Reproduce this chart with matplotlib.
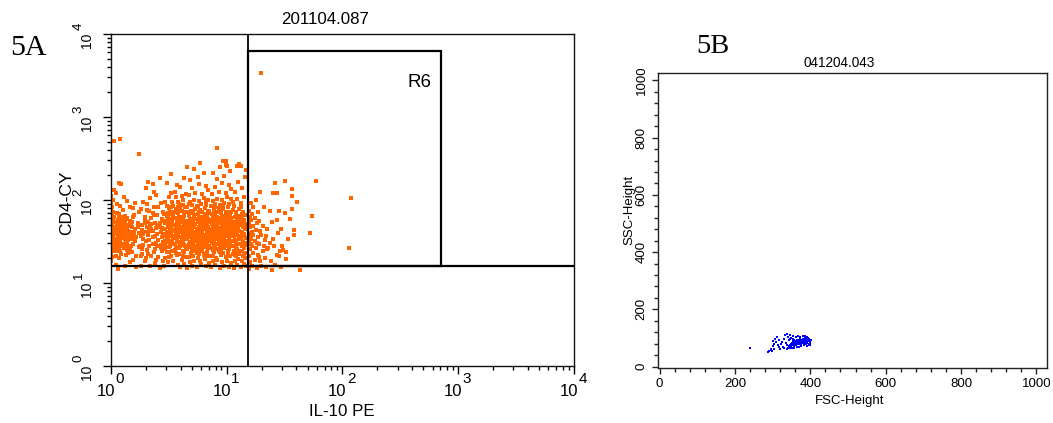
import numpy as np
import matplotlib
matplotlib.use("Agg")
import matplotlib.pyplot as plt
from matplotlib.patches import Rectangle
from matplotlib.ticker import FixedLocator, NullFormatter, MultipleLocator

SANS = ["Liberation Sans", "DejaVu Sans"]
NARROW = ["Liberation Sans Narrow", "DejaVu Sans Condensed", "Liberation Sans", "DejaVu Sans"]
SERIF = ["Liberation Serif", "DejaVu Serif"]

ORANGE = "#ff6600"
BLUE = "#0000ff"

# ---------------- Panel 5A: CD4-CY vs IL-10 PE (log10 decades) ----------------
title_a = "201104.087"
xlabel_a = "IL-10 PE"
ylabel_a = "CD4-CY"
decades = [0, 1, 2, 3, 4]

# quadrant gate and region R6 (linear units)
quad_x = 15.2
quad_y = 15.8
r6_right = 710.0
r6_top = 6300.0

# events as (log10 IL-10 PE, log10 CD4-CY)
events_a = [
    # pile-up on the IL-10 axis
    (0.00, 1.27), (0.01, 1.31), (0.00, 1.36), (0.02, 1.40), (0.00, 1.43), (0.01, 1.47),
    (0.00, 1.50), (0.00, 1.53), (0.01, 1.55), (0.00, 1.58), (0.02, 1.60), (0.00, 1.62),
    (0.01, 1.65), (0.00, 1.67), (0.00, 1.70), (0.01, 1.72), (0.00, 1.75), (0.02, 1.77),
    (0.00, 1.80), (0.01, 1.83), (0.00, 1.86), (0.00, 1.89), (0.01, 1.92), (0.00, 1.96),
    (0.02, 2.00), (0.00, 1.45), (0.01, 1.58), (0.00, 1.68), (0.02, 1.52), (0.00, 2.05),
    (0.01, 1.50), (0.01, 1.62), (0.00, 1.73), (0.01, 1.40), (0.02, 1.85),
    # low IL-10
    (0.04, 1.22), (0.07, 1.30), (0.05, 1.38), (0.09, 1.44), (0.03, 1.49), (0.06, 1.55),
    (0.11, 1.58), (0.04, 1.62), (0.08, 1.66), (0.05, 1.71), (0.12, 1.74), (0.03, 1.79),
    (0.07, 1.83), (0.10, 1.88), (0.05, 1.95), (0.14, 1.99), (0.04, 2.08), (0.09, 2.19),
    (0.13, 1.34), (0.16, 1.41), (0.19, 1.47), (0.15, 1.52), (0.18, 1.61), (0.21, 1.65),
    (0.17, 1.69), (0.23, 1.72), (0.14, 1.78), (0.20, 1.82), (0.16, 1.91), (0.22, 1.55),
    (0.24, 1.43), (0.19, 1.28), (0.12, 1.21), (0.08, 1.50), (0.10, 1.65), (0.13, 1.69),
    (0.06, 1.76), (0.15, 1.63), (0.09, 1.58), (0.11, 1.47), (0.07, 1.41), (0.18, 1.37),
    (0.22, 1.33), (0.24, 1.60), (0.20, 1.57), (0.17, 1.53), (0.14, 1.49), (0.03, 1.68),
    (0.05, 1.84), (0.08, 1.93), (0.11, 2.04), (0.21, 1.96), (0.24, 1.86), (0.18, 1.74),
    (0.13, 1.56), (0.09, 1.35), (0.16, 1.25), (0.22, 1.19), (0.06, 1.17), (0.03, 2.12),
    (0.07, 2.21), (0.12, 1.81), (0.23, 1.68), (0.19, 1.90), (0.10, 1.72), (0.04, 1.33),
    (0.15, 1.44), (0.21, 1.50), (0.17, 1.62), (0.12, 1.63),
    (0.03, 1.39), (0.05, 1.43), (0.08, 1.38), (0.11, 1.42), (0.14, 1.40), (0.17, 1.45),
    (0.04, 1.47), (0.07, 1.52), (0.10, 1.54), (0.13, 1.51), (0.16, 1.56), (0.19, 1.60),
    (0.02, 1.56), (0.05, 1.60), (0.08, 1.62), (0.11, 1.61), (0.14, 1.66), (0.17, 1.58),
    (0.03, 1.64), (0.06, 1.67), (0.09, 1.71), (0.12, 1.73), (0.15, 1.70), (0.18, 1.67),
    (0.04, 1.73), (0.07, 1.78), (0.10, 1.80), (0.13, 1.77), (0.16, 1.75), (0.19, 1.79),
    (0.06, 1.48), (0.09, 1.64), (0.12, 1.46), (0.15, 1.36), (0.18, 1.53),
    (0.05, 1.53), (0.08, 1.57), (0.03, 1.59), (0.06, 1.64), (0.09, 1.47), (0.12, 1.53),
    (0.05, 1.69), (0.10, 1.76), (0.14, 1.60), (0.07, 1.46), (0.03, 1.43), (0.11, 1.67),
    (0.16, 1.71), (0.20, 1.62), (0.08, 1.74),
    # 0.25 - 0.45
    (0.26, 1.21), (0.29, 1.27), (0.27, 1.35), (0.31, 1.40), (0.28, 1.46), (0.33, 1.52),
    (0.26, 1.57), (0.30, 1.61), (0.35, 1.65), (0.27, 1.70), (0.32, 1.74), (0.29, 1.80),
    (0.36, 1.84), (0.26, 1.89), (0.31, 1.95), (0.34, 2.02), (0.30, 2.14), (0.32, 2.22),
    (0.38, 1.24), (0.41, 1.31), (0.37, 1.37), (0.43, 1.42), (0.39, 1.48), (0.44, 1.55),
    (0.40, 1.59), (0.36, 1.63), (0.42, 1.67), (0.38, 1.72), (0.44, 1.77), (0.40, 1.82),
    (0.37, 1.91), (0.43, 1.96), (0.39, 2.06), (0.36, 2.19), (0.42, 2.27), (0.28, 1.59),
    (0.33, 1.44), (0.35, 1.33), (0.30, 1.50), (0.27, 1.64), (0.34, 1.69), (0.29, 1.76),
    (0.41, 1.52), (0.38, 1.56), (0.43, 1.62), (0.45, 1.49), (0.44, 1.38), (0.40, 1.45),
    (0.36, 1.47), (0.32, 1.58), (0.28, 1.53), (0.25, 1.45), (0.31, 1.67), (0.35, 1.78),
    (0.39, 1.66), (0.42, 1.72), (0.45, 1.85), (0.41, 1.91), (0.33, 1.87), (0.28, 1.98),
    (0.37, 2.10), (0.26, 1.33), (0.30, 1.30), (0.34, 1.20), (0.42, 1.18), (0.39, 1.28),
    (0.45, 1.26), (0.36, 1.55), (0.33, 1.63), (0.29, 1.72), (0.44, 1.66), (0.40, 1.70),
    (0.37, 1.82), (0.31, 1.88), (0.27, 1.41), (0.43, 1.46), (0.38, 1.41), (0.35, 1.71),
    (0.32, 1.35), (0.45, 1.59),
    # 0.45 - 0.65
    (0.46, 1.20), (0.49, 1.25), (0.47, 1.30), (0.52, 1.33), (0.48, 1.37), (0.55, 1.40),
    (0.50, 1.43), (0.46, 1.46), (0.53, 1.48), (0.57, 1.50), (0.49, 1.52), (0.54, 1.54),
    (0.47, 1.56), (0.51, 1.58), (0.56, 1.60), (0.48, 1.62), (0.53, 1.64), (0.58, 1.66),
    (0.50, 1.68), (0.55, 1.70), (0.47, 1.72), (0.52, 1.74), (0.57, 1.76), (0.49, 1.78),
    (0.54, 1.80), (0.46, 1.83), (0.51, 1.86), (0.56, 1.89), (0.48, 1.93), (0.53, 1.97),
    (0.50, 2.03), (0.55, 2.10), (0.48, 2.21), (0.52, 2.31),
    (0.60, 1.19), (0.63, 1.23), (0.61, 1.28), (0.64, 1.31), (0.59, 1.35), (0.62, 1.38),
    (0.65, 1.41), (0.60, 1.44), (0.63, 1.46), (0.58, 1.49), (0.61, 1.51), (0.64, 1.53),
    (0.59, 1.55), (0.62, 1.57), (0.65, 1.59), (0.60, 1.61), (0.63, 1.63), (0.58, 1.65),
    (0.61, 1.67), (0.64, 1.69), (0.59, 1.71), (0.62, 1.73), (0.65, 1.75), (0.60, 1.78),
    (0.63, 1.81), (0.58, 1.84), (0.61, 1.87), (0.64, 1.91), (0.59, 1.95), (0.62, 2.00),
    (0.65, 2.07), (0.60, 2.16), (0.63, 2.26),
    (0.47, 1.41), (0.51, 1.45), (0.55, 1.47), (0.49, 1.49), (0.53, 1.51), (0.57, 1.53),
    (0.46, 1.59), (0.50, 1.60), (0.54, 1.63), (0.58, 1.58), (0.52, 1.66), (0.56, 1.67),
    (0.49, 1.69), (0.53, 1.71), (0.57, 1.73), (0.46, 1.75), (0.51, 1.77), (0.55, 1.78),
    (0.59, 1.80), (0.48, 1.81), (0.52, 1.83), (0.57, 1.85), (0.50, 1.90), (0.54, 1.93),
    (0.58, 1.97), (0.47, 1.98), (0.56, 2.03), (0.61, 2.05), (0.52, 2.08), (0.57, 2.18),
    (0.62, 1.48), (0.64, 1.62), (0.60, 1.66), (0.62, 1.80), (0.56, 1.36), (0.50, 1.31),
    (0.54, 1.26), (0.58, 1.22), (0.62, 1.33), (0.47, 1.50), (0.53, 1.39), (0.59, 1.42),
    (0.64, 1.45), (0.61, 1.54), (0.57, 1.62), (0.55, 1.56), (0.51, 1.64), (0.49, 1.57),
    (0.63, 1.70), (0.60, 1.74), (0.54, 1.86), (0.58, 1.91), (0.64, 1.85), (0.62, 1.94),
    # 0.65 - 0.85
    (0.66, 1.18), (0.70, 1.21), (0.74, 1.19), (0.78, 1.23), (0.82, 1.20), (0.68, 1.25),
    (0.72, 1.27), (0.77, 1.26), (0.81, 1.29), (0.85, 1.24), (0.67, 1.31), (0.71, 1.33),
    (0.75, 1.30), (0.80, 1.34), (0.84, 1.32), (0.69, 1.36), (0.73, 1.38), (0.76, 1.35),
    (0.79, 1.39), (0.83, 1.37),
    (0.66, 1.41), (0.68, 1.43), (0.70, 1.40), (0.72, 1.44), (0.74, 1.42), (0.76, 1.45),
    (0.78, 1.41), (0.80, 1.43), (0.82, 1.46), (0.84, 1.42), (0.67, 1.47), (0.69, 1.49),
    (0.71, 1.46), (0.73, 1.50), (0.75, 1.48), (0.77, 1.51), (0.79, 1.47), (0.81, 1.50),
    (0.83, 1.48), (0.85, 1.51), (0.66, 1.53), (0.68, 1.55), (0.70, 1.52), (0.72, 1.56),
    (0.74, 1.54), (0.76, 1.57), (0.78, 1.53), (0.80, 1.56), (0.82, 1.54), (0.84, 1.57),
    (0.67, 1.59), (0.69, 1.61), (0.71, 1.58), (0.73, 1.60), (0.75, 1.62), (0.77, 1.59),
    (0.79, 1.61), (0.81, 1.58), (0.83, 1.60), (0.85, 1.62),
    (0.66, 1.64), (0.68, 1.66), (0.70, 1.63), (0.72, 1.67), (0.74, 1.65), (0.76, 1.68),
    (0.78, 1.64), (0.80, 1.67), (0.82, 1.65), (0.84, 1.68), (0.67, 1.70), (0.69, 1.72),
    (0.71, 1.69), (0.73, 1.71), (0.75, 1.73), (0.77, 1.70), (0.79, 1.72), (0.81, 1.74),
    (0.83, 1.71), (0.85, 1.73), (0.66, 1.75), (0.68, 1.77), (0.70, 1.76), (0.72, 1.79),
    (0.74, 1.77), (0.76, 1.80), (0.78, 1.76), (0.80, 1.78), (0.82, 1.80), (0.84, 1.77),
    (0.67, 1.82), (0.71, 1.84), (0.75, 1.83), (0.79, 1.85), (0.83, 1.82), (0.69, 1.87),
    (0.73, 1.89), (0.77, 1.88), (0.81, 1.90), (0.85, 1.87), (0.66, 1.92), (0.70, 1.94),
    (0.74, 1.93), (0.78, 1.95), (0.82, 1.94), (0.68, 1.98), (0.72, 2.00), (0.76, 1.99),
    (0.80, 2.02), (0.84, 2.00),
    (0.67, 2.06), (0.73, 2.09), (0.79, 2.07), (0.84, 2.12), (0.70, 2.15), (0.76, 2.19),
    (0.82, 2.17), (0.68, 2.24), (0.75, 2.28), (0.80, 2.33), (0.77, 2.44), (0.72, 2.37),
    (0.67, 1.56), (0.73, 1.53), (0.79, 1.44), (0.83, 1.66), (0.71, 1.74), (0.77, 1.62),
    (0.69, 1.69), (0.75, 1.58), (0.81, 1.46), (0.85, 1.55), (0.68, 1.48), (0.74, 1.36),
    (0.80, 1.71), (0.72, 1.61), (0.78, 1.79), (0.84, 1.85),
    # 0.85 - 1.05
    (0.86, 1.19), (0.90, 1.22), (0.94, 1.18), (0.98, 1.21), (1.02, 1.19), (0.88, 1.26),
    (0.92, 1.28), (0.96, 1.25), (1.00, 1.27), (1.04, 1.24), (0.87, 1.32), (0.91, 1.30),
    (0.95, 1.34), (0.99, 1.31), (1.03, 1.33), (0.89, 1.37), (0.93, 1.39), (0.97, 1.36),
    (1.01, 1.38), (1.05, 1.35),
    (0.86, 1.42), (0.88, 1.40), (0.90, 1.44), (0.92, 1.41), (0.94, 1.43), (0.96, 1.46),
    (0.98, 1.42), (1.00, 1.45), (1.02, 1.41), (1.04, 1.44), (0.87, 1.48), (0.89, 1.50),
    (0.91, 1.47), (0.93, 1.51), (0.95, 1.49), (0.97, 1.52), (0.99, 1.48), (1.01, 1.50),
    (1.03, 1.47), (1.05, 1.51), (0.86, 1.54), (0.88, 1.56), (0.90, 1.53), (0.92, 1.57),
    (0.94, 1.55), (0.96, 1.58), (0.98, 1.54), (1.00, 1.57), (1.02, 1.55), (1.04, 1.58),
    (0.87, 1.60), (0.89, 1.62), (0.91, 1.59), (0.93, 1.61), (0.95, 1.63), (0.97, 1.60),
    (0.99, 1.62), (1.01, 1.59), (1.03, 1.61), (1.05, 1.63),
    (0.86, 1.65), (0.88, 1.67), (0.90, 1.64), (0.92, 1.68), (0.94, 1.66), (0.96, 1.69),
    (0.98, 1.65), (1.00, 1.68), (1.02, 1.66), (1.04, 1.69), (0.87, 1.71), (0.89, 1.73),
    (0.91, 1.70), (0.93, 1.72), (0.95, 1.74), (0.97, 1.71), (0.99, 1.73), (1.01, 1.75),
    (1.03, 1.72), (1.05, 1.74), (0.86, 1.76), (0.88, 1.78), (0.90, 1.77), (0.92, 1.80),
    (0.94, 1.78), (0.96, 1.81), (0.98, 1.77), (1.00, 1.79), (1.02, 1.81), (1.04, 1.78),
    (0.87, 1.83), (0.91, 1.85), (0.95, 1.84), (0.99, 1.86), (1.03, 1.83), (0.89, 1.88),
    (0.93, 1.90), (0.97, 1.89), (1.01, 1.91), (1.05, 1.88), (0.86, 1.93), (0.90, 1.95),
    (0.94, 1.94), (0.98, 1.96), (1.02, 1.95), (0.88, 1.99), (0.92, 2.01), (0.96, 2.00),
    (1.00, 2.03), (1.04, 2.01),
    (0.87, 2.07), (0.93, 2.10), (0.99, 2.08), (1.04, 2.13), (0.90, 2.16), (0.96, 2.20),
    (1.02, 2.18), (0.92, 2.25), (0.98, 2.29), (1.03, 2.35), (0.94, 2.40), (0.97, 2.47),
    (0.88, 2.33), (1.00, 2.41),
    (0.87, 1.57), (0.93, 1.54), (0.99, 1.45), (1.03, 1.67), (0.91, 1.75), (0.97, 1.63),
    (0.89, 1.70), (0.95, 1.59), (1.01, 1.47), (1.05, 1.56), (0.88, 1.49), (0.94, 1.37),
    (1.00, 1.72), (0.92, 1.62), (0.98, 1.80), (1.04, 1.86),
    # additional core events
    (0.47, 1.44), (0.52, 1.47), (0.56, 1.43), (0.61, 1.46), (0.66, 1.44), (0.71, 1.42),
    (0.75, 1.45), (0.80, 1.48), (0.85, 1.45), (0.89, 1.43), (0.94, 1.46), (0.98, 1.49),
    (1.03, 1.45), (1.08, 1.43), (1.12, 1.47),
    (0.48, 1.55), (0.53, 1.57), (0.57, 1.55), (0.62, 1.52), (0.66, 1.57), (0.70, 1.55),
    (0.75, 1.51), (0.79, 1.55), (0.84, 1.53), (0.88, 1.58), (0.93, 1.56), (0.97, 1.55),
    (1.02, 1.52), (1.06, 1.59), (1.11, 1.56),
    (0.47, 1.65), (0.52, 1.62), (0.56, 1.65), (0.61, 1.62), (0.65, 1.66), (0.70, 1.67),
    (0.74, 1.62), (0.79, 1.66), (0.83, 1.63), (0.88, 1.64), (0.92, 1.66), (0.97, 1.67),
    (1.01, 1.63), (1.06, 1.66), (1.10, 1.68),
    (0.48, 1.73), (0.53, 1.76), (0.57, 1.71), (0.62, 1.77), (0.66, 1.73), (0.71, 1.77),
    (0.75, 1.75), (0.80, 1.73), (0.84, 1.75), (0.89, 1.76), (0.93, 1.77), (0.98, 1.75),
    (1.02, 1.74), (1.07, 1.71), (1.11, 1.76),
    (0.49, 1.84), (0.54, 1.82), (0.58, 1.86), (0.63, 1.84), (0.67, 1.86), (0.72, 1.82),
    (0.76, 1.86), (0.81, 1.83), (0.85, 1.84), (0.90, 1.81), (0.94, 1.86), (0.99, 1.83),
    (1.03, 1.86), (1.08, 1.82), (1.13, 1.83),
    (0.50, 1.37), (0.57, 1.34), (0.63, 1.37), (0.69, 1.34), (0.76, 1.38), (0.82, 1.35),
    (0.88, 1.33), (0.95, 1.38), (1.01, 1.35), (1.07, 1.34), (1.13, 1.39),
    (0.52, 1.92), (0.60, 1.90), (0.67, 1.95), (0.75, 1.91), (0.82, 1.97), (0.90, 1.91),
    (0.97, 1.93), (1.05, 1.97), (1.12, 1.92),
    # 1.05 - 1.18
    (1.06, 1.18), (1.09, 1.22), (1.12, 1.19), (1.15, 1.23), (1.17, 1.20), (1.07, 1.27),
    (1.10, 1.29), (1.13, 1.26), (1.16, 1.30), (1.08, 1.33), (1.11, 1.35), (1.14, 1.32),
    (1.17, 1.36), (1.06, 1.39), (1.09, 1.41), (1.12, 1.38), (1.15, 1.42), (1.07, 1.45),
    (1.10, 1.47), (1.13, 1.44), (1.16, 1.48), (1.08, 1.51), (1.11, 1.53), (1.14, 1.50),
    (1.17, 1.54), (1.06, 1.56), (1.09, 1.58), (1.12, 1.55), (1.15, 1.59), (1.07, 1.62),
    (1.10, 1.64), (1.13, 1.61), (1.16, 1.65), (1.08, 1.68), (1.11, 1.70), (1.14, 1.67),
    (1.17, 1.71), (1.06, 1.73), (1.09, 1.75), (1.12, 1.72), (1.15, 1.76), (1.07, 1.79),
    (1.10, 1.81), (1.13, 1.78), (1.16, 1.82), (1.08, 1.86), (1.11, 1.89), (1.14, 1.85),
    (1.06, 1.93), (1.12, 1.96), (1.09, 2.01), (1.15, 2.04), (1.07, 2.10), (1.13, 2.15),
    (1.10, 2.22), (1.16, 2.28), (1.12, 2.41), (1.17, 2.36), (1.08, 1.49), (1.14, 1.57),
    (1.11, 1.63), (1.17, 1.46), (1.16, 1.69), (1.07, 1.52), (1.13, 1.74), (1.10, 1.37),
    (1.15, 1.35),
    # 1.18 - 1.35
    (1.19, 1.17), (1.22, 1.20), (1.26, 1.18), (1.30, 1.21), (1.34, 1.19), (1.20, 1.25),
    (1.24, 1.28), (1.29, 1.26), (1.33, 1.30), (1.19, 1.33), (1.23, 1.36), (1.27, 1.34),
    (1.31, 1.38), (1.20, 1.41), (1.22, 1.44), (1.25, 1.42), (1.28, 1.47), (1.32, 1.45),
    (1.19, 1.50), (1.21, 1.53), (1.24, 1.51), (1.27, 1.55), (1.30, 1.58), (1.19, 1.60),
    (1.22, 1.62), (1.25, 1.64), (1.20, 1.67), (1.23, 1.69), (1.26, 1.72), (1.19, 1.74),
    (1.21, 1.76), (1.24, 1.78), (1.28, 1.75), (1.20, 1.80), (1.22, 1.83), (1.19, 1.87),
    (1.23, 1.91), (1.27, 1.85), (1.21, 1.96), (1.25, 2.00), (1.29, 1.63), (1.33, 1.52),
    (1.35, 1.41), (1.31, 1.69), (1.26, 1.48), (1.20, 1.56), (1.23, 1.58), (1.19, 1.70),
    (1.21, 1.47), (1.28, 1.31),
    # sparse high IL-10
    (1.42, 2.21), (1.50, 2.23), (1.77, 2.23), (1.29, 2.10), (1.40, 2.08), (1.43, 2.08),
    (1.56, 2.13), (1.56, 2.05), (1.61, 1.98), (1.32, 1.92), (1.56, 1.89), (1.45, 1.87),
    (1.37, 1.87), (1.50, 1.84), (1.74, 1.81), (1.55, 1.77), (1.43, 1.76), (1.39, 1.74),
    (1.72, 1.60), (1.58, 1.64), (1.58, 1.58), (1.53, 1.53), (1.48, 1.45), (1.49, 1.40),
    (1.51, 1.37), (1.46, 1.38), (1.43, 1.34), (1.51, 1.29), (1.35, 1.65), (1.34, 1.56),
    (1.40, 1.53), (1.37, 1.48), (1.41, 1.44), (1.36, 1.42), (1.45, 1.32), (1.38, 1.27),
    (1.42, 1.22), (1.47, 1.19), (1.39, 1.16), (1.63, 1.16), (1.44, 1.60), (1.47, 1.65),
    # isolated events
    (0.03, 2.71), (0.08, 2.74), (0.24, 2.55), (0.92, 2.63), (1.30, 3.53), (2.07, 2.02),
    (2.06, 1.42), (0.77, 2.44), (0.99, 2.47), (0.99, 2.42), (1.09, 2.41), (1.11, 2.43),
    (0.66, 2.40),
]

# ---------------- Panel 5B: SSC-Height vs FSC-Height ----------------
title_b = "041204.043"
xlabel_b = "FSC-Height"
ylabel_b = "SSC-Height"

# events as (FSC-Height, SSC-Height)
events_b = [
    (241, 65),
    (288, 50), (291, 53), (295, 57), (299, 55), (303, 60), (297, 62),
    (300, 72), (304, 80), (302, 90), (306, 96), (309, 85), (311, 104), (313, 75),
    (316, 68), (318, 92), (320, 62), (322, 78), (325, 86), (327, 70), (329, 98),
    (331, 64), (333, 110), (335, 82), (337, 115), (338, 74), (340, 104), (341, 66),
    (343, 92), (345, 112),
    (344, 72), (346, 76), (348, 70), (349, 80), (351, 74), (352, 84), (354, 78),
    (355, 88), (356, 72), (357, 82), (358, 92), (359, 76), (360, 86), (361, 80),
    (362, 90), (363, 74), (364, 84), (365, 94), (366, 78), (367, 88), (368, 82),
    (369, 92), (370, 86), (371, 80), (372, 96), (373, 84), (374, 90), (375, 78),
    (376, 88), (377, 94), (378, 84), (379, 90), (380, 98), (381, 86), (382, 80),
    (383, 92), (384, 88), (385, 100), (386, 84), (387, 94), (388, 78), (389, 90),
    (390, 96), (391, 86), (392, 82), (393, 100), (394, 92), (395, 88), (396, 80),
    (397, 96), (398, 74), (399, 90), (400, 84), (402, 94),
    (350, 100), (355, 106), (362, 102), (368, 106), (374, 104), (380, 108),
    (386, 106), (392, 104), (347, 96), (353, 96),
    (339, 62), (346, 64), (352, 66), (358, 64), (364, 68), (370, 70), (376, 72),
    (384, 74), (390, 72), (396, 76),
]
ticks_b = [0, 200, 400, 600, 800, 1000]

# ---------------- figure ----------------
fig = plt.figure(figsize=(10.53, 4.23), dpi=100)
axA = fig.add_axes([0.1054, 0.1348, 0.4397, 0.7849])
axB = fig.add_axes([0.6249, 0.1307, 0.3694, 0.6974])

# ---- panel A ----
ev_a = np.array(events_a)
axA.scatter(10 ** ev_a[:, 0], 10 ** ev_a[:, 1], s=5.6, marker="s",
            linewidths=0, color=ORANGE, zorder=2)
axA.set_xscale("log")
axA.set_yscale("log")
axA.set_xlim(1, 1e4)
axA.set_ylim(1, 1e4)

minor_vals = [m * 10 ** d for d in decades[:-1] for m in range(2, 10)]
for axis in (axA.xaxis, axA.yaxis):
    axis.set_major_locator(FixedLocator([10 ** d for d in decades]))
    axis.set_minor_locator(FixedLocator(minor_vals))
    axis.set_major_formatter(NullFormatter())
    axis.set_minor_formatter(NullFormatter())
axA.tick_params(which="major", direction="out", length=5.5, width=1.0, color="black")
axA.tick_params(which="minor", direction="out", length=3.2, width=1.0, color="black")
for s in axA.spines.values():
    s.set_linewidth(1.0)
    s.set_color("#111111")

# quadrant gate and R6
axA.axvline(quad_x, color="black", lw=1.3, zorder=3)
axA.axhline(quad_y, color="black", lw=1.6, zorder=3)
axA.add_patch(Rectangle((quad_x, quad_y), r6_right - quad_x, r6_top - quad_y,
                        fill=False, ec="black", lw=1.6, zorder=3))
axA.annotate("R6", xy=(r6_right, r6_top), xycoords="data", xytext=(-6.5, -16.5),
             textcoords="offset points", ha="right", va="top", fontsize=13.5,
             family=SANS, annotation_clip=False)

# decade tick labels: "10" with a raised exponent
for d in decades:
    axA.annotate("10", xy=(10 ** d, 0), xycoords=("data", "axes fraction"),
                 xytext=(2.9, -13.2), textcoords="offset points", ha="right",
                 va="top", fontsize=12, family=NARROW, annotation_clip=False)
    axA.annotate(str(d), xy=(10 ** d, 0), xycoords=("data", "axes fraction"),
                 xytext=(3.2, -4.6), textcoords="offset points", ha="left",
                 va="top", fontsize=11, family=NARROW, annotation_clip=False)
    axA.annotate("10", xy=(0, 10 ** d), xycoords=("axes fraction", "data"),
                 xytext=(-17.0, 0.7), textcoords="offset points", ha="center",
                 va="top", rotation=90, fontsize=10, family=SANS,
                 annotation_clip=False)
    axA.annotate(str(d), xy=(0, 10 ** d), xycoords=("axes fraction", "data"),
                 xytext=(-23.2, 3.2), textcoords="offset points", ha="center",
                 va="bottom", rotation=90, fontsize=9.5, family=SANS,
                 annotation_clip=False)

axA.set_xlabel(xlabel_a, fontsize=12.2, family=NARROW)
axA.xaxis.set_label_coords(0.498, -0.137)
axA.xaxis.label.set_va("center")
axA.set_ylabel(ylabel_a, fontsize=12.5, family=SANS)
axA.yaxis.set_label_coords(-0.095, 0.491)
axA.yaxis.label.set_va("center")

# ---- panel B ----
ev_b = np.array(events_b, dtype=float)
axB.scatter(ev_b[:, 0], ev_b[:, 1], s=2.6, marker="s", linewidths=0,
            color=BLUE, zorder=2)
axB.set_xlim(-4, 1028)
axB.set_ylim(-4, 1027)
for axis in (axB.xaxis, axB.yaxis):
    axis.set_major_locator(FixedLocator(ticks_b))
    axis.set_minor_locator(MultipleLocator(40))
axB.tick_params(which="major", direction="out", length=4.2, width=1.0,
                labelsize=9.5, color="#222222")
axB.tick_params(which="minor", direction="out", length=3.0, width=1.0, color="#222222")
axB.tick_params(axis="x", pad=3.0)
axB.tick_params(axis="y", pad=3.2, labelrotation=90)
for lab in axB.get_yticklabels():
    lab.set_va("center")
for lab in axB.get_xticklabels() + axB.get_yticklabels():
    lab.set_family(SANS)
for s in axB.spines.values():
    s.set_linewidth(1.0)
    s.set_color("#222222")
axB.set_xlabel(xlabel_b, fontsize=9.5, family=SANS)
axB.xaxis.set_label_coords(0.4936, -0.113)
axB.xaxis.label.set_va("center")
axB.set_ylabel(ylabel_b, fontsize=9.5, family=SANS)
axB.yaxis.set_label_coords(-0.0746, 0.5346)
axB.yaxis.label.set_va("center")

# ---- titles and panel letters ----
fig.text(324.7 / 1053, 1 - 19 / 423, title_a, ha="center", va="center",
         fontsize=12.2, family=NARROW)
fig.text(839 / 1053, 1 - 62.8 / 423, title_b, ha="center", va="center",
         fontsize=9.8, family=SANS)
fig.text(10 / 1053, 1 - 55 / 423, "5A", ha="left", va="baseline",
         fontsize=21.5, family=SERIF)
fig.text(696 / 1053, 1 - 52.7 / 423, "5B", ha="left", va="baseline",
         fontsize=20.5, family=SERIF)

fig.savefig("out.png", dpi=100)
